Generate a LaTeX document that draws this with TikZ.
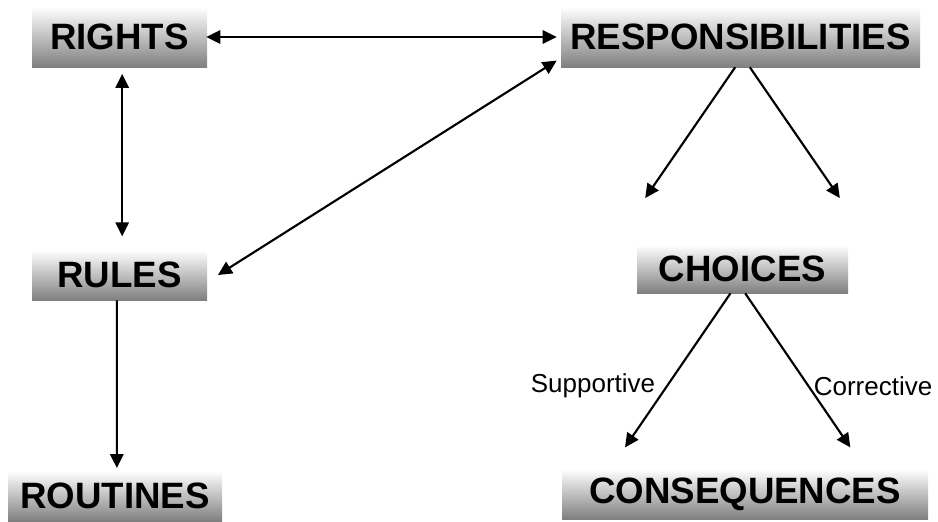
\documentclass[tikz,border=0pt]{standalone}
\usepackage{fontspec}
\setmainfont{Liberation Sans}
\usetikzlibrary{positioning,arrows.meta,calc}

\begin{document}
\begin{tikzpicture}[
    x=0.75pt, y=-0.75pt,
    % shaded title boxes
    grad_box/.style={rectangle, top color=white, bottom color=black!50,
                     inner sep=0pt, align=center,
                     font=\fontsize{27.5}{30}\selectfont\bfseries},
    two_way/.style={{Triangle[length=10.5pt,width=10pt]}-{Triangle[length=10.5pt,width=10pt]},
                    line width=1.6pt},
    one_way/.style={-{Triangle[length=10.5pt,width=10pt]}, line width=1.6pt},
    side_label/.style={font=\fontsize{19.5}{22}\selectfont, inner sep=1pt}
]
\useasboundingbox (0,0) rectangle (938,521);

% Left column
\node[grad_box, minimum width=131.25pt, minimum height=45pt] (rights) at (119.5,37) {RIGHTS};
\node[grad_box, minimum width=131.25pt, minimum height=37.5pt] (rules) at (119.5,275) {RULES};
\node[grad_box, minimum width=160.5pt, minimum height=37.5pt] (routines) at (115,496) {ROUTINES};

% Right column
\node[grad_box, minimum width=269.25pt, minimum height=45pt] (resp) at (740.5,37) {RESPONSIBILITIES};
\node[grad_box, minimum width=158.25pt, minimum height=36pt] (choices) at (742.5,269) {CHOICES};
\node[grad_box, minimum width=274.5pt, minimum height=37.5pt] (cons) at (745,494) {CONSEQUENCES};

% Two-way links
\draw[two_way] ([xshift=-0.75pt]rights.east) -- ([xshift=-3pt]resp.west);
\draw[two_way] ([xshift=2pt,yshift=-5pt]rights.south) -- ([xshift=2pt,yshift=10pt]rules.north);
\draw[two_way] ([xshift=8pt]rules.east) -- ([xshift=-3pt,yshift=5pt]resp.south west);

% One-way links
\draw[one_way] ([xshift=-2pt]rules.south) -- ([xshift=1.4pt,yshift=2pt]routines.north);
\draw[one_way] ([xshift=-4pt]resp.south) -- ([xshift=-73pt,yshift=35pt]choices.north);
\draw[one_way] ([xshift=7pt]resp.south) -- ([xshift=73pt,yshift=35pt]choices.north);
\draw[one_way] ([xshift=-9pt]choices.south) -- ([xshift=-90pt,yshift=16pt]cons.north);
\draw[one_way] ([xshift=2pt]choices.south) -- ([xshift=79pt,yshift=16pt]cons.north);

% Arrow labels
\node[side_label] (supportive) at (593,386) {Supportive};
\node[side_label] (corrective) at (873,386) {Corrective};

\end{tikzpicture}
\end{document}
